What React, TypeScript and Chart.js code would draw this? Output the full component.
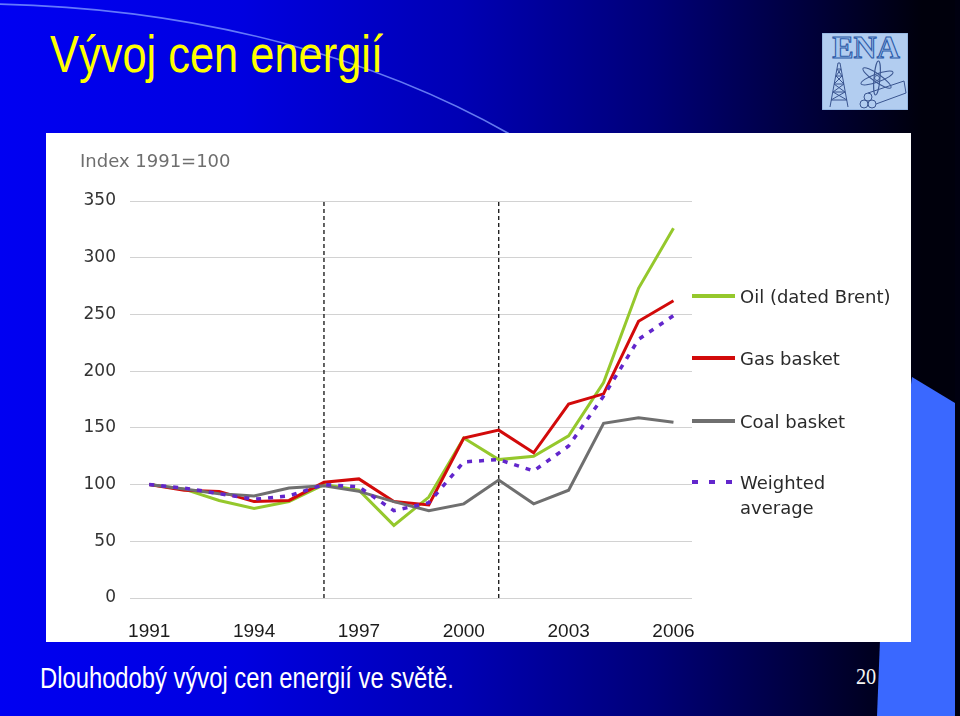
import React, { useEffect, useRef } from "react";
import { Chart, registerables } from "chart.js";

Chart.register(...registerables);

const years = [1991, 1992, 1993, 1994, 1995, 1996, 1997, 1998, 1999, 2000, 2001, 2002, 2003, 2004, 2005, 2006];
const oil = [100, 96, 86, 79, 85, 100, 95, 64, 89, 141, 122, 125, 143, 190, 273, 326];
const gas = [100, 95, 94, 85, 86, 102, 105, 85, 82, 141, 148, 128, 171, 180, 244, 262];
const coal = [100, 96, 92, 90, 97, 99, 94, 85, 77, 83, 104, 83, 95, 154, 159, 155];
const weighted = [100, 97, 92, 87, 90, 100, 98, 77, 84, 120, 122, 112, 134, 178, 228, 249];
const xTickYears = [1991, 1994, 1997, 2000, 2003, 2006];
const yTicks = [0, 50, 100, 150, 200, 250, 300, 350];
const markerYears = [1996, 2001];
const seriesNames = ["Oil (dated Brent)", "Gas basket", "Coal basket", "Weighted average"];
const yAxisNote = "Index 1991=100";
const slideTitle = "Vývoj cen energií";
const slideFooter = "Dlouhodobý vývoj cen energií ve světě.";
const slideNumber = "20";

const colors = ["#95c82c", "#d20a0a", "#6f6f6f", "#6226cc"];

function Logo() {
  return (
    <svg width="86" height="77" viewBox="0 0 86 77" style={{ position: "absolute", left: 822, top: 33 }}>
      <rect x="0" y="0" width="86" height="77" fill="#b2cdf0" stroke="#7fa3d6" strokeWidth="1" />
      <text x="44" y="25" textAnchor="middle" fontFamily="Liberation Serif" fontSize="32" fontWeight="bold" fill="#a9c6ee" stroke="#2a5aa8" strokeWidth="1.1">ENA</text>
      <g stroke="#3a5590" strokeWidth="1" fill="none">
        <line x1="8" y1="74" x2="16" y2="30" />
        <line x1="26" y1="74" x2="18" y2="30" />
        <line x1="16" y1="30" x2="18" y2="30" />
        <line x1="15" y1="36" x2="19" y2="36" />
        <line x1="14" y1="43" x2="20" y2="43" />
        <line x1="12" y1="51" x2="22" y2="51" />
        <line x1="11" y1="59" x2="23" y2="59" />
        <line x1="9" y1="67" x2="25" y2="67" />
        <line x1="15" y1="36" x2="20" y2="43" />
        <line x1="19" y1="36" x2="14" y2="43" />
        <line x1="14" y1="43" x2="22" y2="51" />
        <line x1="20" y1="43" x2="12" y2="51" />
        <line x1="12" y1="51" x2="23" y2="59" />
        <line x1="22" y1="51" x2="11" y2="59" />
        <line x1="11" y1="59" x2="25" y2="67" />
        <line x1="23" y1="59" x2="9" y2="67" />
        <ellipse cx="55" cy="45" rx="17" ry="4" transform="rotate(-20 55 45)" />
        <ellipse cx="55" cy="45" rx="17" ry="4" transform="rotate(35 55 45)" />
        <ellipse cx="55" cy="45" rx="17" ry="3" transform="rotate(95 55 45)" />
        <circle cx="55" cy="45" r="2.5" />
        <circle cx="42" cy="71" r="4" />
        <circle cx="50" cy="71" r="4" />
        <circle cx="46" cy="64" r="4" />
        <line x1="46" y1="60" x2="82" y2="48" />
        <line x1="54" y1="71" x2="84" y2="60" />
        <line x1="82" y1="48" x2="84" y2="60" />
      </g>
    </svg>
  );
}

export default function App() {
  const ref = useRef<HTMLCanvasElement>(null);

  useEffect(() => {
    if (!ref.current) return;
    const toPts = (arr: number[]) => years.map((yr, i) => ({ x: yr, y: arr[i] }));
    const seriesData = [oil, gas, coal, weighted];
    const orders = [4, 3, 2, 1];
    const lineSets: any[] = seriesData.map((arr, i) => ({
      label: seriesNames[i],
      data: toPts(arr),
      borderColor: colors[i],
      backgroundColor: colors[i],
      borderWidth: i === 3 ? 3.5 : 3,
      borderDash: i === 3 ? [5, 7] : [],
      pointRadius: 0,
      tension: 0,
      fill: false,
      order: orders[i],
    }));
    const markerSets: any[] = markerYears.map((yr) => ({
      label: "m" + yr,
      data: [
        { x: yr, y: yTicks[0] },
        { x: yr, y: yTicks[yTicks.length - 1] },
      ],
      borderColor: "#111",
      borderWidth: 1.3,
      borderDash: [4, 3],
      pointRadius: 0,
      fill: false,
      order: 6,
    }));

    const chart = new Chart(ref.current, {
      type: "line",
      data: { datasets: [...lineSets, ...markerSets] },
      options: {
        responsive: false,
        animation: false,
        events: [],
        layout: { padding: { left: 0, top: 68, right: 219, bottom: 0 } },
        plugins: { legend: { display: false }, tooltip: { enabled: false }, title: { display: false } },
        scales: {
          x: {
            type: "linear",
            min: 1990.45,
            max: 2006.53,
            afterBuildTicks: (s: any) => {
              s.ticks = xTickYears.map((v) => ({ value: v }));
            },
            afterFit: (s: any) => {
              s.height = 44;
            },
            ticks: {
              callback: (v: any) => String(v),
              font: { family: "Liberation Sans", size: 19 },
              color: "#1c1c1c",
              padding: 14,
              maxRotation: 0,
              autoSkip: false,
            },
            grid: { display: false },
            border: { display: false },
          },
          y: {
            min: 0,
            max: 350,
            afterBuildTicks: (s: any) => {
              s.ticks = yTicks.map((v) => ({ value: v }));
            },
            afterFit: (s: any) => {
              s.width = 84;
            },
            ticks: {
              font: { family: "DejaVu Sans", size: 17 },
              color: "#333",
              padding: 14,
            },
            grid: { color: "#d2d2d2", lineWidth: 1, drawTicks: false },
            border: { display: false },
          },
        },
      },
    } as any);
    return () => chart.destroy();
  }, []);

  const legendItems = [
    { y: 296, label: [seriesNames[0]] },
    { y: 358, label: [seriesNames[1]] },
    { y: 421, label: [seriesNames[2]] },
    { y: 482, label: ["Weighted", "average"] },
  ];

  return (
    <div
      style={{
        position: "fixed",
        left: 0,
        top: 0,
        width: 960,
        height: 716,
        overflow: "hidden",
        background: "linear-gradient(to right, #0000f2 0%, #0000e0 25%, #0000b4 48%, #000078 68%, #00003c 84%, #00000c 96%)",
        fontFamily: "Liberation Sans, Arial, sans-serif",
      }}
    >
      <svg width="960" height="716" style={{ position: "absolute", left: 0, top: 0 }}>
        <path d="M -5 4 C 200 8, 380 58, 520 140" stroke="#7d97ff" strokeWidth="1.6" fill="none" opacity="0.8" />
      </svg>
      <div
        style={{
          position: "absolute",
          left: 0,
          top: 0,
          width: 960,
          height: 716,
          background: "#3a68ff",
          clipPath: "polygon(912px 377px, 955px 403px, 955px 716px, 877px 716px, 880px 640px, 895px 500px)",
        }}
      />
      <div style={{ position: "absolute", left: 955, top: 0, width: 5, height: 716, background: "#000010" }} />
      <div
        style={{
          position: "absolute",
          left: 50,
          top: 28,
          fontSize: 52,
          lineHeight: "52px",
          color: "#ffff00",
          whiteSpace: "nowrap",
          transform: "scaleX(0.835)",
          transformOrigin: "left top",
        }}
      >
        {slideTitle}
      </div>
      <Logo />
      <div style={{ position: "absolute", left: 46, top: 133, width: 865, height: 509, background: "#ffffff" }}>
        <canvas ref={ref} width={865} height={509} style={{ position: "absolute", left: 0, top: 0, width: 865, height: 509 }} />
        <div
          style={{
            position: "absolute",
            left: 34,
            top: 17,
            fontFamily: "DejaVu Sans",
            fontSize: 18,
            lineHeight: "22px",
            color: "#6e6e6e",
            whiteSpace: "nowrap",
          }}
        >
          {yAxisNote}
        </div>
        {legendItems.map((it, i) => (
          <React.Fragment key={i}>
            <div
              style={{
                position: "absolute",
                left: 692 - 46,
                top: it.y - 133 - 2,
                width: 43,
                height: 4,
                background:
                  i === 3
                    ? `repeating-linear-gradient(to right, ${colors[i]} 0px, ${colors[i]} 6px, transparent 6px, transparent 17px)`
                    : colors[i],
              }}
            />
            <div
              style={{
                position: "absolute",
                left: 740 - 46,
                top: it.y - 133 - 12,
                fontFamily: "DejaVu Sans",
                fontSize: 18,
                lineHeight: "25px",
                color: "#2a2a2a",
                whiteSpace: "nowrap",
              }}
            >
              {it.label.map((l, j) => (
                <div key={j}>{l}</div>
              ))}
            </div>
          </React.Fragment>
        ))}
      </div>
      <div
        style={{
          position: "absolute",
          left: 40,
          top: 664,
          fontSize: 29,
          lineHeight: "29px",
          color: "#ffffff",
          whiteSpace: "nowrap",
          transform: "scaleX(0.82)",
          transformOrigin: "left top",
        }}
      >
        {slideFooter}
      </div>
      <div
        style={{
          position: "absolute",
          left: 856,
          top: 665,
          fontFamily: "Liberation Serif",
          fontSize: 23,
          lineHeight: "23px",
          color: "#f4f4f4",
          transform: "scaleX(0.88)",
          transformOrigin: "left top",
        }}
      >
        {slideNumber}
      </div>
    </div>
  );
}
